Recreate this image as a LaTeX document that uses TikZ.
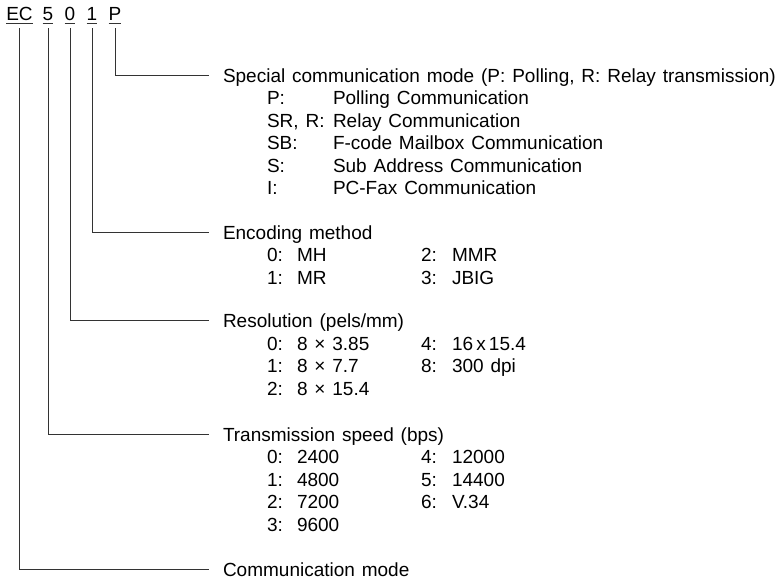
\documentclass[tikz,border=0pt]{standalone}
\usepackage{fontspec}
\setmainfont{Liberation Sans}[WordSpace=1.3]
\begin{document}
\begin{tikzpicture}[x=1pt,y=-1pt,
  every node/.style={inner sep=0pt, outer sep=0pt, font=\fontsize{19}{22}\selectfont},
  tok/.style={anchor=base},
  txt/.style={anchor=base west},
  wire/.style={line width=0.8pt, draw=black!80}]
\useasboundingbox (0,0) rectangle (784,582);
% code tokens
\node[tok] (ec) at (19.5,20) {EC};
\node[tok] (d5) at (48,20) {5};
\node[tok] (d0) at (70,20) {0};
\node[tok] (d1) at (92,20) {1};
\node[tok] (dP) at (115,20) {P};
\foreach \t in {ec,d5,d0,d1,dP}{
  \draw[wire] ([yshift=-3pt]\t.base west) -- ([yshift=-3pt]\t.base east);
}
% corners
\coordinate (kP) at (209,75);
\coordinate (k1) at (209,232);
\coordinate (k0) at (209,320);
\coordinate (k5) at (209,434);
\coordinate (kE) at (209,569);
\draw[wire] ([yshift=-8pt]dP.base) |- (kP);
\draw[wire] ([yshift=-8pt]d1.base) |- (k1);
\draw[wire] ([yshift=-8pt]d0.base) |- (k0);
\draw[wire] ([yshift=-8pt]d5.base) |- (k5);
\draw[wire] ([yshift=-8pt]ec.base) |- (kE);
% Special communication mode
\node[txt] (hP) at (223,82) {Special communication mode (P: Polling, R: Relay transmission)};
\node[txt] (pa1) at (267,104.5) {P:};      \node[txt] (pb1) at (333,104.5) {Polling Communication};
\node[txt] (pa2) at (267,127) {SR, R:};    \node[txt] (pb2) at (333,127) {Relay Communication};
\node[txt] (pa3) at (267,149.5) {SB:};     \node[txt] (pb3) at (333,149.5) {F-code Mailbox Communication};
\node[txt] (pa4) at (267,172) {S:};        \node[txt] (pb4) at (333,172) {Sub Address Communication};
\node[txt] (pa5) at (267,194.5) {I:};      \node[txt] (pb5) at (333,194.5) {PC-Fax Communication};
% Encoding method
\node[txt] (h1) at (223,239) {Encoding method};
\node[txt] (ea0) at (267,261.5) {0:}; \node[txt] (eb0) at (297,261.5) {MH};
\node[txt] (ea1) at (267,284) {1:};   \node[txt] (eb1) at (297,284) {MR};
\node[txt] (ea2) at (421,261.5) {2:}; \node[txt] (eb2) at (452,261.5) {MMR};
\node[txt] (ea3) at (421,284) {3:};   \node[txt] (eb3) at (452,284) {JBIG};
% Resolution
\node[txt] (h0) at (223,327) {Resolution (pels/mm)};
\node[txt] (ra0) at (267,350) {0:}; \node[txt] (rb0) at (297,350) {8 × 3.85};
\node[txt] (ra1) at (267,372.5) {1:};   \node[txt] (rb1) at (297,372.5) {8 × 7.7};
\node[txt] (ra2) at (267,395) {2:}; \node[txt] (rb2) at (297,395) {8 × 15.4};
\node[txt] (ra4) at (421,350) {4:}; \node[txt] (rb4) at (452,350) {16\,x\,15.4};
\node[txt] (ra8) at (421,372.5) {8:};   \node[txt] (rb8) at (452,372.5) {300 dpi};
% Transmission speed
\node[txt] (h5) at (223,441) {Transmission speed (bps)};
\node[txt] (ta0) at (267,463.5) {0:}; \node[txt] (tb0) at (297,463.5) {2400};
\node[txt] (ta1) at (267,486) {1:};   \node[txt] (tb1) at (297,486) {4800};
\node[txt] (ta2) at (267,508.5) {2:}; \node[txt] (tb2) at (297,508.5) {7200};
\node[txt] (ta3) at (267,531) {3:};   \node[txt] (tb3) at (297,531) {9600};
\node[txt] (ta4) at (421,463.5) {4:}; \node[txt] (tb4) at (452,463.5) {12000};
\node[txt] (ta5) at (421,486) {5:};   \node[txt] (tb5) at (452,486) {14400};
\node[txt] (ta6) at (421,508.5) {6:}; \node[txt] (tb6) at (452,508.5) {V.34};
% Communication mode
\node[txt] (hE) at (223,576) {Communication mode};
\end{tikzpicture}
\end{document}
